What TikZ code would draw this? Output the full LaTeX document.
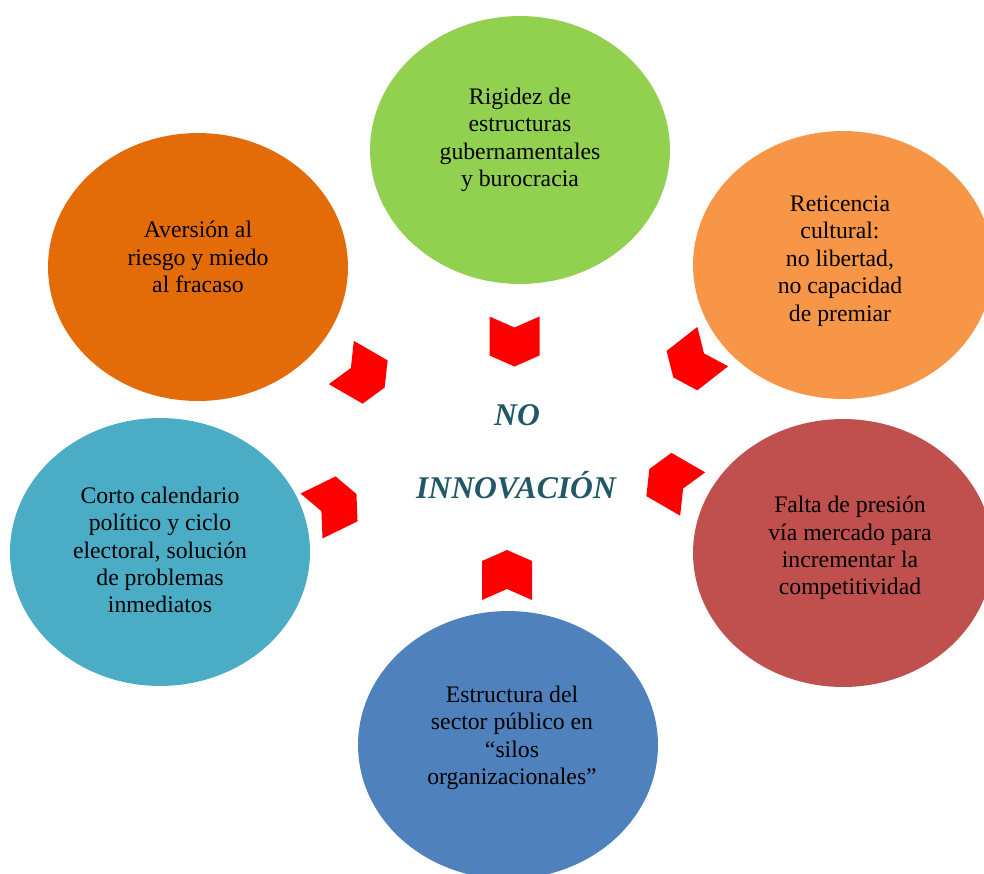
\documentclass[tikz,border=0pt]{standalone}
\usepackage{fontspec}
\setmainfont{Liberation Serif}
\definecolor{LeafGreen}{HTML}{92D050}
\definecolor{BurntOrange}{HTML}{E36C09}
\definecolor{SoftOrange}{HTML}{F79646}
\definecolor{BrickRed}{HTML}{C0504D}
\definecolor{SkyTeal}{HTML}{4BACC6}
\definecolor{SteelBlue}{HTML}{4F81BD}
\definecolor{ChevRed}{HTML}{FF0000}
\definecolor{CoreTeal}{HTML}{215868}
\usetikzlibrary{
  shapes.geometric
}

\begin{document}
\begin{tikzpicture}[
  x=0.02cm, y=-0.02cm,
  bubble/.style={
    ellipse, inner sep=0pt,
    minimum width=6cm, minimum height=5.36cm
  },
  blurb/.style={
    align=center, text=black,
    font=\fontsize{13.5}{15.6}\selectfont
  },
  core/.style={
    text=CoreTeal,
    font=\fontsize{18}{21}\selectfont\bfseries\itshape
  },
  chev/.pic={
    \fill[ChevRed] (-25,-25) -- (-14,0) -- (-25,25)
      -- (14,25) -- (25,0) -- (14,-25) -- cycle;
  }
]
  \useasboundingbox (0,0) rectangle (984,873);
  \clip (0,0) rectangle (984,873);

  % bubbles
  \node[bubble, fill=LeafGreen] (rigidez) at (520,150) {};
  \node[bubble, fill=BurntOrange] (aversion) at (198,267) {};
  \node[bubble, fill=SoftOrange] (reticencia) at (843,265) {};
  \node[bubble, fill=BrickRed] (presion) at (843,553) {};
  \node[bubble, fill=SkyTeal] (calendario) at (160,552) {};
  \node[bubble, fill=SteelBlue] (silos) at (508,745) {};

  % texts
  \node[blurb] (rigidez-txt) at (520,140)
    {Rigidez de\\estructuras\\gubernamentales\\y burocracia};
  \node[blurb] (aversion-txt) at (198,257)
    {Aversión al\\riesgo y miedo\\al fracaso};
  \node[blurb] (reticencia-txt) at (840,261)
    {Reticencia\\cultural:\\no libertad,\\no capacidad\\de premiar};
  \node[blurb] (presion-txt) at (850,548)
    {Falta de presión\\vía mercado para\\incrementar la\\competitividad};
  \node[blurb] (calendario-txt) at (160,550)
    {Corto calendario\\político y ciclo\\electoral, solución\\de problemas\\inmediatos};
  \node[blurb] (silos-txt) at (512,738)
    {Estructura del\\sector público en\\“silos\\organizacionales”};

  % centre
  \node[core] (no) at (517,415) {NO};
  \node[core] (innov) at (516,485) {INNOVACIÓN};

  % chevrons pointing inwards
  \pic[rotate=-90] at (514.5,341.5) {chev};
  \pic[rotate=90] at (507,575) {chev};
  \pic[rotate=-30] at (363,375) {chev};
  \pic[rotate=-142] at (693,362) {chev};
  \pic[rotate=150] at (671,481.5) {chev};
  \pic[rotate=26] at (334,505) {chev};
\end{tikzpicture}
\end{document}
